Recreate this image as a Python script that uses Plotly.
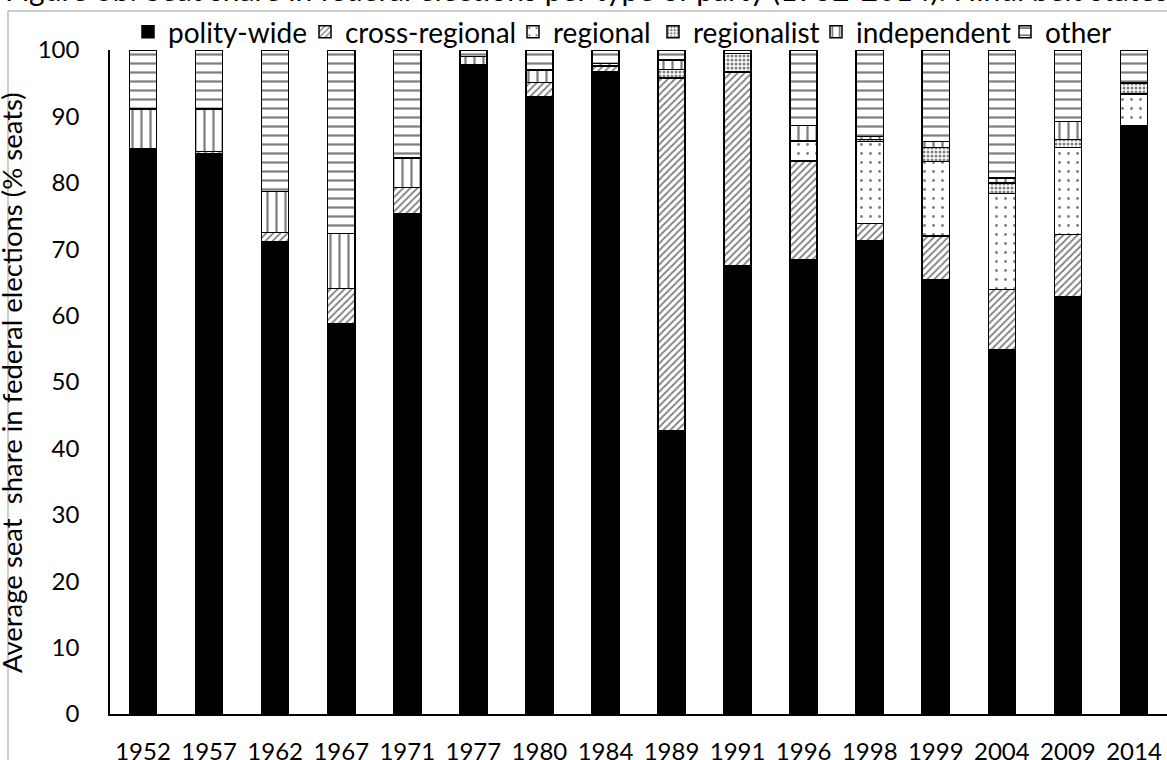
import plotly.graph_objects as go

years = ["1952", "1957", "1962", "1967", "1971", "1977", "1980", "1984",
         "1989", "1991", "1996", "1998", "1999", "2004", "2009", "2014"]

polity_wide    = [85.2, 84.4, 71.1, 58.8, 75.3, 97.8, 93.0, 96.8, 42.6, 67.5, 68.4, 71.2, 65.4, 54.8, 62.8, 88.4]
cross_regional = [0.0, 0.3, 1.4, 5.3, 4.0, 0.0, 2.1, 0.8, 53.2, 29.2, 14.9, 2.7, 6.6, 9.1, 9.4, 0.2]
regional       = [0.0, 0.0, 0.0, 0.0, 0.0, 0.0, 0.0, 0.0, 0.0, 0.0, 3.0, 12.3, 11.2, 14.5, 13.1, 4.8]
regionalist    = [0.0, 0.0, 0.0, 0.0, 0.0, 0.0, 0.0, 0.0, 1.3, 2.8, 0.0, 0.3, 2.1, 1.6, 1.2, 1.6]
independent    = [5.9, 6.4, 6.2, 8.3, 4.4, 1.2, 1.9, 0.4, 1.4, 0.0, 2.3, 0.5, 0.9, 0.7, 2.7, 0.0]
other          = [8.9, 8.9, 21.3, 27.6, 16.3, 1.0, 3.0, 2.0, 1.5, 0.5, 11.4, 13.0, 13.8, 19.3, 10.8, 5.0]

FONT = "Lato"
W, H = 1167, 760
L, R, T, B = 110, 0, 50, 46

series = [
    ("polity-wide", polity_wide, dict(shape="", fgcolor="black", bgcolor="black")),
    ("cross-regional", cross_regional, dict(shape="/", size=5, solidity=0.35, fgcolor="black", bgcolor="white")),
    ("regional", regional, dict(shape=".", size=9, solidity=0.08, fgcolor="black", bgcolor="white")),
    ("regionalist", regionalist, dict(shape=".", size=4, solidity=0.45, fgcolor="black", bgcolor="white")),
    ("independent", independent, dict(shape="|", size=9, solidity=0.25, fgcolor="black", bgcolor="white")),
    ("other", other, dict(shape="-", size=9, solidity=0.25, fgcolor="black", bgcolor="white")),
]

# legend text start positions (px)
legend_text_x = [170, 347, 555, 695, 858, 1047]
legend_y_px = 32

fig = go.Figure()
legend_layouts = {}
for i, (name, vals, pat) in enumerate(series):
    lname = "legend" if i == 0 else f"legend{i + 1}"
    fig.add_trace(go.Bar(
        x=years, y=vals, name=name, legend=lname,
        marker=dict(color="black" if name == "polity-wide" else "white",
                    pattern=pat,
                    line=dict(color="black", width=1.5)),
    ))
    legend_layouts[lname] = dict(
        xref="container", yref="container",
        x=(legend_text_x[i] - 42) / W, y=1 - legend_y_px / H,
        xanchor="left", yanchor="middle", orientation="h",
        font=dict(family=FONT, size=28, color="black"),
        itemwidth=30, bgcolor="rgba(0,0,0,0)", borderwidth=0,
    )

fig.update_layout(
    width=W, height=H,
    barmode="stack", bargap=0.59,
    plot_bgcolor="white", paper_bgcolor="white",
    margin=dict(l=L, r=R, t=T, b=B, autoexpand=False),
    font=dict(family=FONT, size=24, color="black"),
    showlegend=True,
    xaxis=dict(type="category", showline=True, linecolor="black", linewidth=1.5,
               ticks="", ticklabelstandoff=15, tickfont=dict(size=24), showgrid=False,
               zeroline=False, automargin=False),
    yaxis=dict(range=[0, 100], dtick=10, showline=True, linecolor="black", linewidth=1.5,
               ticks="", ticklabelstandoff=24, tickfont=dict(size=24), showgrid=False,
               zeroline=False, automargin=False),
    shapes=[
        dict(type="line", xref="paper", yref="paper", x0=-0.0965, x1=1.05,
             y0=1.0587, y1=1.0587, line=dict(color="#bdbdbd", width=1.5), layer="below"),
        dict(type="line", xref="paper", yref="paper", x0=-0.0965, x1=-0.0965,
             y0=1.0587, y1=-0.1, line=dict(color="#bdbdbd", width=1.5), layer="below"),
    ],
    annotations=[
        dict(text="Figure 3b: Seat share in federal elections per type of party (1952-2014): Hindi belt states.",
             xref="paper", yref="paper", x=-0.101, y=1.0916, xanchor="left", yanchor="middle",
             showarrow=False, font=dict(family=FONT, size=30, color="black")),
        dict(text="Average seat\u00a0 share in federal elections (% seats)",
             xref="paper", yref="paper", x=-0.0927, y=0.4985, xanchor="center", yanchor="middle",
             textangle=-90, showarrow=False, font=dict(family=FONT, size=27.5, color="black")),
    ],
    **legend_layouts,
)

fig.write_html("out.html", config={"displayModeBar": False},
               post_script="document.body.style.margin='0';document.body.style.overflow='hidden';")
